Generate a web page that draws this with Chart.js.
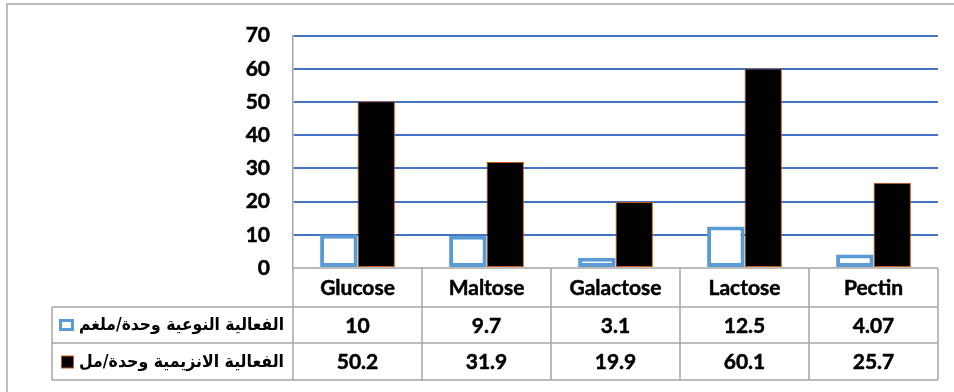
<!DOCTYPE html>
<html>
<head>
<meta charset="utf-8">
<script src="https://cdn.jsdelivr.net/npm/chart.js@4/dist/chart.umd.min.js"></script>
<style>
  html, body { margin: 0; padding: 0; background: #ffffff; }
  #wrap { width: 954px; height: 392px; position: relative; }
</style>
</head>
<body>
<div id="wrap"><canvas id="chart" width="954" height="392"></canvas></div>
<script>
// Sugars tested as carbon sources
const categories = ['Glucose', 'Maltose', 'Galactose', 'Lactose', 'Pectin'];
// Specific activity (unit/mg)
const specificActivity = [10, 9.7, 3.1, 12.5, 4.07];
// Enzyme activity (unit/ml)
const enzymeActivity = [50.2, 31.9, 19.9, 60.1, 25.7];
const seriesLabels = ['الفعالية النوعية وحدة/ملغم', 'الفعالية الانزيمية وحدة/مل'];
// Value axis range
const yMin = 0;
const yMax = 70;
const yStep = 10;

const LATIN_FONT = 'bold 21px Lato, "Open Sans", sans-serif';
const ARABIC_FONT = 'bold 17px "DejaVu Sans", sans-serif';
const LINE_GREY = '#a6a6a6';

const styles = [
  { bg: '#ffffff', border: '#5b9bd5', width: 4 },
  { bg: '#000000', border: '#c55a11', width: 1 }
];

// Outer frame plus the data table drawn under the plot, aligned to the category scale
const dataTablePlugin = {
  id: 'dataTable',
  afterDraw(chart) {
    const ctx = chart.ctx;
    const xs = chart.scales.x;
    const area = chart.chartArea;
    const n = categories.length;
    const step = (area.right - area.left) / n;
    const rowTops = [area.bottom, area.bottom + 39, area.bottom + 75, area.bottom + 112];
    const tableLeft = 52;

    ctx.save();
    // frame
    ctx.strokeStyle = '#bdbdbd';
    ctx.lineWidth = 2;
    ctx.beginPath();
    ctx.moveTo(7, 392); ctx.lineTo(7, 4); ctx.lineTo(954, 4);
    ctx.stroke();

    // grid of the table
    ctx.strokeStyle = LINE_GREY;
    ctx.lineWidth = 1.5;
    ctx.beginPath();
    ctx.moveTo(area.left, rowTops[0]); ctx.lineTo(area.right, rowTops[0]);
    for (let r = 1; r < rowTops.length; r++) {
      ctx.moveTo(tableLeft, rowTops[r]); ctx.lineTo(area.right, rowTops[r]);
    }
    for (let i = 0; i <= n; i++) {
      const x = area.left + i * step;
      ctx.moveTo(x, rowTops[0]); ctx.lineTo(x, rowTops[3]);
    }
    ctx.moveTo(tableLeft, rowTops[1]); ctx.lineTo(tableLeft, rowTops[3]);
    ctx.stroke();

    // category names and values
    ctx.fillStyle = '#000000';
    ctx.strokeStyle = '#000000';
    ctx.lineWidth = 0.5;
    ctx.font = LATIN_FONT;
    ctx.textAlign = 'center';
    ctx.textBaseline = 'middle';
    const rows = [categories, specificActivity, enzymeActivity];
    rows.forEach((row, r) => {
      const yMid = (rowTops[r] + rowTops[r + 1]) / 2 + 1;
      row.forEach((v, i) => {
        ctx.fillText(String(v), xs.getPixelForValue(i), yMid);
        ctx.strokeText(String(v), xs.getPixelForValue(i), yMid);
      });
    });

    // series keys with Arabic labels, condensed to sit between key and first column
    const labelRight = 284;
    const labelRoom = 205;
    for (let s = 0; s < 2; s++) {
      const yMid = (rowTops[s + 1] + rowTops[s + 2]) / 2;
      const st = styles[s];
      if (s === 0) {
        ctx.fillStyle = st.border;
        ctx.fillRect(59, yMid - 6, 15, 12);
        ctx.fillStyle = st.bg;
        ctx.fillRect(62, yMid - 3, 9, 6);
      } else {
        ctx.fillStyle = st.border;
        ctx.fillRect(61, yMid - 6, 13, 13);
        ctx.fillStyle = st.bg;
        ctx.fillRect(62, yMid - 5, 11, 11);
      }
      ctx.save();
      ctx.font = ARABIC_FONT;
      const w = ctx.measureText(seriesLabels[s]).width;
      const k = Math.min(1, labelRoom / w);
      ctx.translate(labelRight, yMid + 1);
      ctx.scale(k, 1);
      ctx.fillStyle = '#000000';
      ctx.direction = 'rtl';
      ctx.textAlign = 'right';
      ctx.fillText(seriesLabels[s], 0, 0);
      ctx.restore();
    }
    ctx.restore();
  }
};

new Chart(document.getElementById('chart'), {
  type: 'bar',
  data: {
    labels: categories,
    datasets: [
      {
        label: seriesLabels[0],
        data: specificActivity,
        backgroundColor: styles[0].bg,
        borderColor: styles[0].border,
        borderWidth: styles[0].width,
        borderSkipped: false
      },
      {
        label: seriesLabels[1],
        data: enzymeActivity,
        backgroundColor: styles[1].bg,
        borderColor: styles[1].border,
        borderWidth: styles[1].width,
        borderSkipped: false
      }
    ]
  },
  options: {
    responsive: false,
    animation: false,
    devicePixelRatio: 1,
    layout: { padding: { left: 0, top: 30.4, right: 16, bottom: 124 } },
    datasets: { bar: { categoryPercentage: 0.58, barPercentage: 1 } },
    plugins: {
      legend: { display: false },
      tooltip: { enabled: false }
    },
    scales: {
      x: { display: false },
      y: {
        min: yMin,
        max: yMax,
        ticks: {
          stepSize: yStep,
          padding: 23,
          color: '#000000',
          textStrokeColor: '#000000',
          textStrokeWidth: 0.5,
          font: { family: 'Lato, "Open Sans", sans-serif', size: 21, weight: 'bold' }
        },
        grid: {
          drawTicks: false,
          lineWidth: 2,
          color: (c) => (c.tick && c.tick.value === 0 ? 'rgba(0,0,0,0)' : '#4472c4')
        },
        border: { display: true, color: LINE_GREY, width: 1.5 },
        afterFit(scale) { scale.width = 293; }
      }
    }
  },
  plugins: [dataTablePlugin]
});
</script>
</body>
</html>
